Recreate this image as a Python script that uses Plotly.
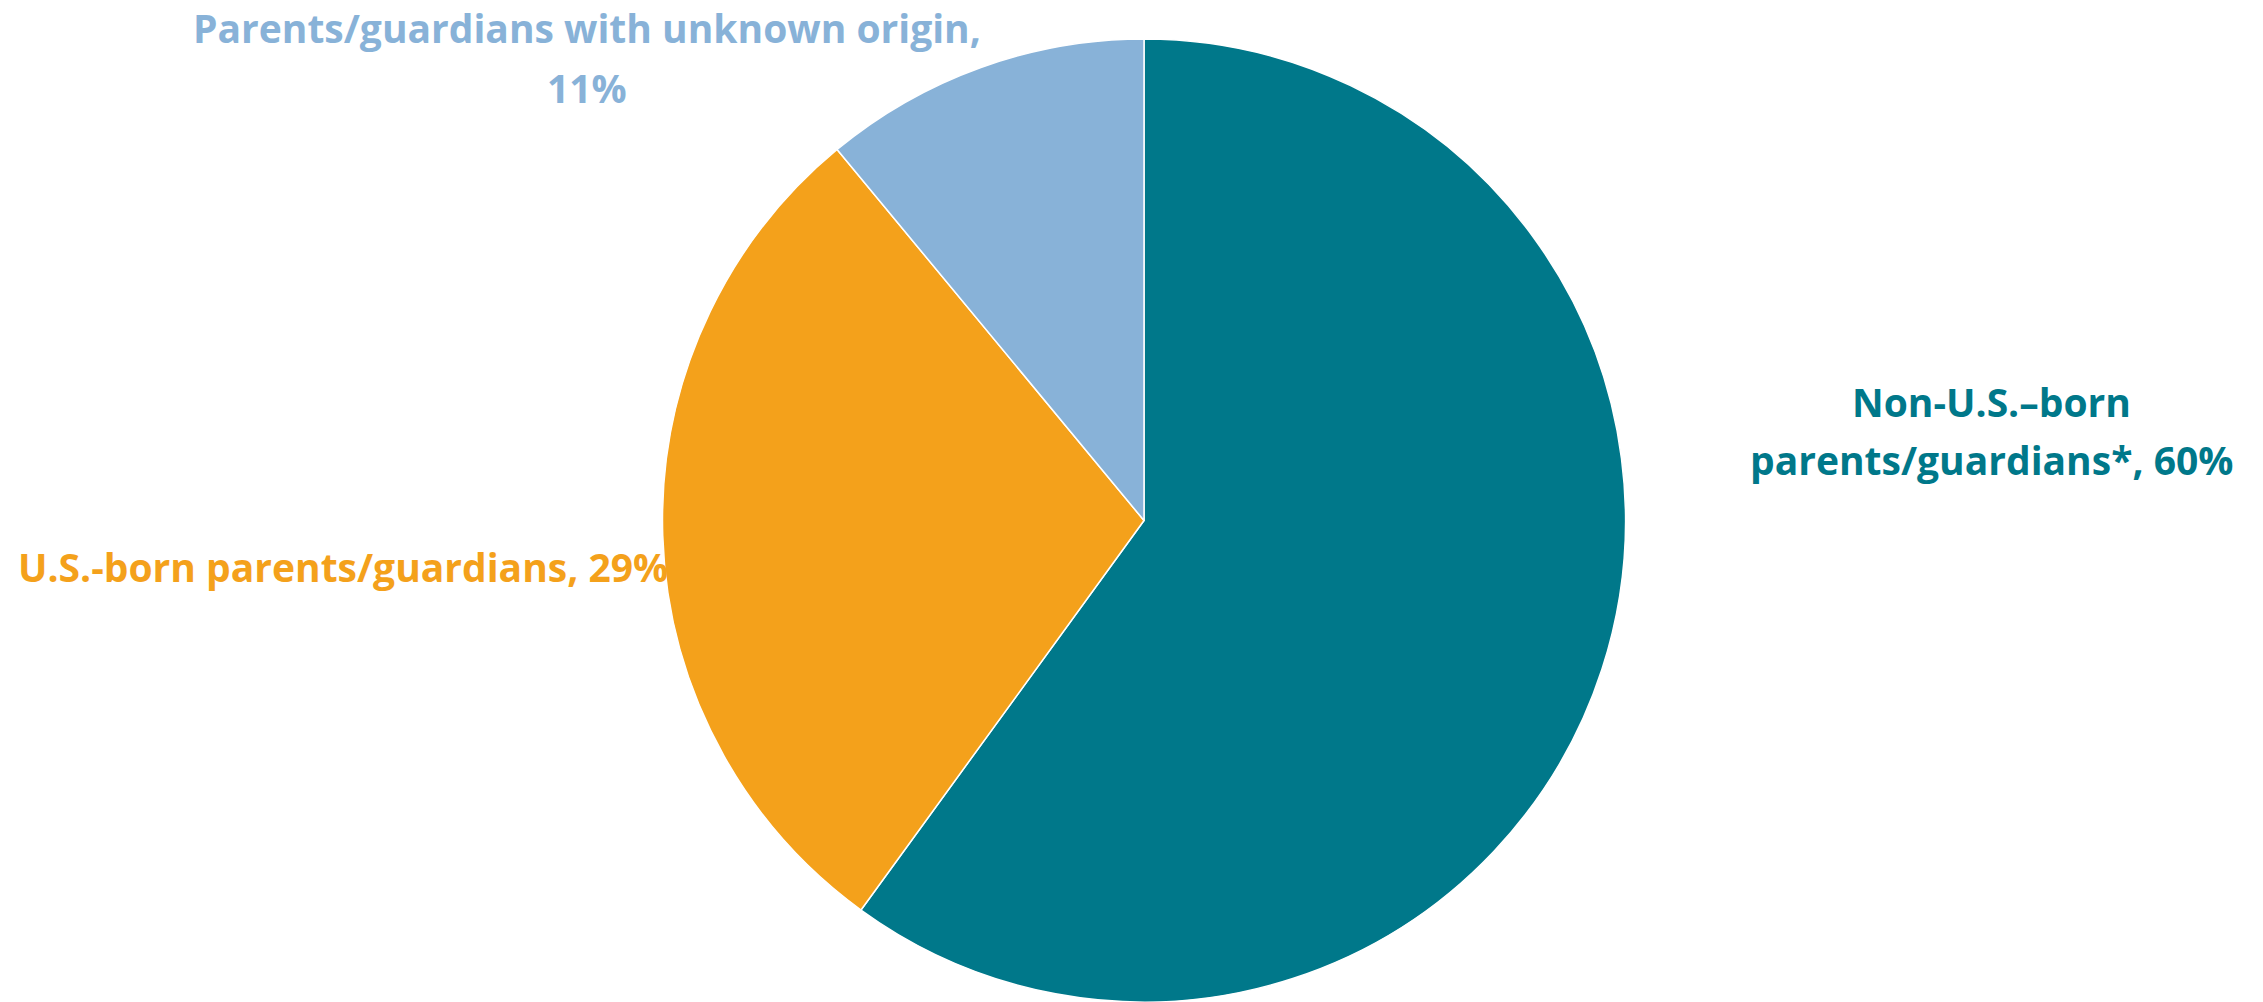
import plotly.graph_objects as go

# Share of children by parents'/guardians' place of birth
categories = [
    "Non-U.S.\u2013born parents/guardians*",
    "U.S.-born parents/guardians",
    "Parents/guardians with unknown origin",
]
shares = [60, 29, 11]
colors = ["#00788A", "#F4A11B", "#88B2D8"]

W, H = 2263, 1002

fig = go.Figure(
    go.Pie(
        labels=categories,
        values=shares,
        sort=False,
        direction="clockwise",
        rotation=0,
        marker=dict(colors=colors, line=dict(color="white", width=1.5)),
        textinfo="none",
        hoverinfo="label+percent",
        showlegend=False,
        domain=dict(x=[662.5 / W, 1625.5 / W], y=[0, 1 - 39 / H]),
    )
)

FONT = "Open Sans"
SIZE = 39


def px(x, y):
    return x / W, 1 - y / H


def add_label(lines, xs, ys, color, anchor="center"):
    for line, x, y in zip(lines, xs, ys):
        ax, ay = px(x, y)
        fig.add_annotation(
            x=ax, y=ay, xref="paper", yref="paper",
            text=f"<b>{line}</b>", showarrow=False,
            xanchor=anchor, yanchor="middle",
            font=dict(family=FONT, size=SIZE, color=color),
        )


# Label text built from the category names and shares
add_label(
    [categories[2] + ",", f"{shares[2]}%"],
    [587, 587], [28, 88], colors[2],
)
add_label(
    [f"{categories[1]}, {shares[1]}%"],
    [16], [566], colors[1], anchor="left",
)
add_label(
    ["Non-U.S.\u2013born", f"parents/guardians*, {shares[0]}%"],
    [1991, 1991], [402, 460], colors[0],
)

fig.update_layout(
    width=W, height=H,
    margin=dict(l=0, r=0, t=0, b=0),
    paper_bgcolor="white",
    plot_bgcolor="white",
)

fig.write_html("out.html")
